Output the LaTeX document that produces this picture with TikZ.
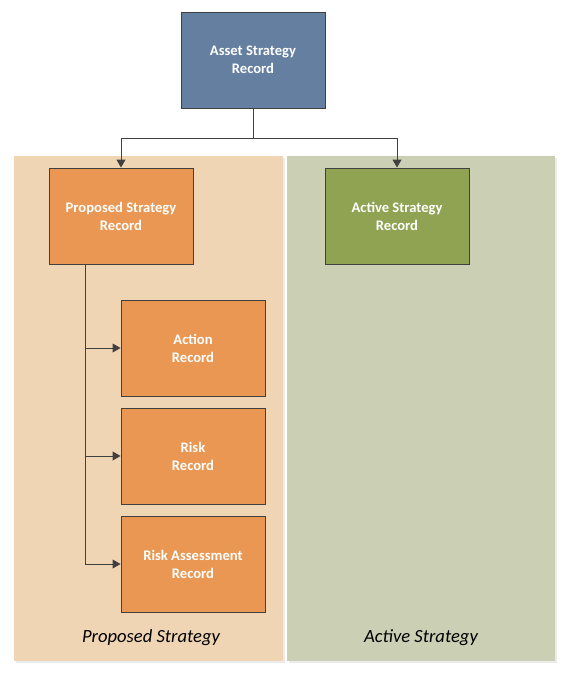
\documentclass[tikz,border=0pt]{standalone}
\usepackage{fontspec}
\setmainfont{Carlito}
\usetikzlibrary{arrows.meta}

\definecolor{assetblue}{HTML}{647F9F}
\definecolor{proporange}{HTML}{E99752}
\definecolor{activegreen}{HTML}{8FA352}
\definecolor{propback}{HTML}{EFD5B4}
\definecolor{activeback}{HTML}{CBD0B4}
\definecolor{linegray}{HTML}{404040}

\begin{document}
\begin{tikzpicture}[x=1pt,y=-1pt,
    rec/.style={draw=linegray,line width=0.9pt,minimum width=144pt,minimum height=96pt,
      inner sep=0pt,align=center,text=white,font=\bfseries\fontsize{14.6}{18}\selectfont},
    link/.style={draw=linegray,line width=0.9pt,-{Triangle[length=8pt,width=9pt]}},
    panellabel/.style={font=\itshape\fontsize{18.6}{21}\selectfont,text=black}]
    \useasboundingbox (0,0) rectangle (571,677);
    % background panels
    \fill[black!8] (16,158) rectangle (285,663);
    \fill[black!8] (289,158) rectangle (557,663);
    \fill[propback] (14,156) rectangle (283,661);
    \fill[activeback] (287,156) rectangle (555,661);
    \node[panellabel] (proplabel) at (151,637.5) {Proposed Strategy};
    \node[panellabel] (activelabel) at (421,637.5) {Active Strategy};
    % records
    \node[rec,fill=assetblue] (asset) at (253,60) {Asset Strategy\\Record};
    \node[rec,fill=proporange] (propose) at (121,216) {Proposed Strategy\\Record};
    \node[rec,fill=activegreen] (active) at (397,216) {Active Strategy\\Record};
    \node[rec,fill=proporange] (action) at (193,348) {Action\\Record};
    \node[rec,fill=proporange] (risk) at (193,456) {Risk\\Record};
    \node[rec,fill=proporange] (assess) at (193,564) {Risk Assessment\\Record};
    % connectors
    \coordinate (fork) at (253,138);
    \coordinate (trunk) at ([xshift=-36pt]propose.south);
    \draw[linegray,line width=0.9pt] (asset.south) -- (fork);
    \draw[link] (fork) -| (propose.north);
    \draw[link] (fork) -| (active.north);
    \draw[link] (trunk) |- (action.west);
    \draw[link] (trunk) |- (risk.west);
    \draw[link] (trunk) |- (assess.west);
\end{tikzpicture}
\end{document}
